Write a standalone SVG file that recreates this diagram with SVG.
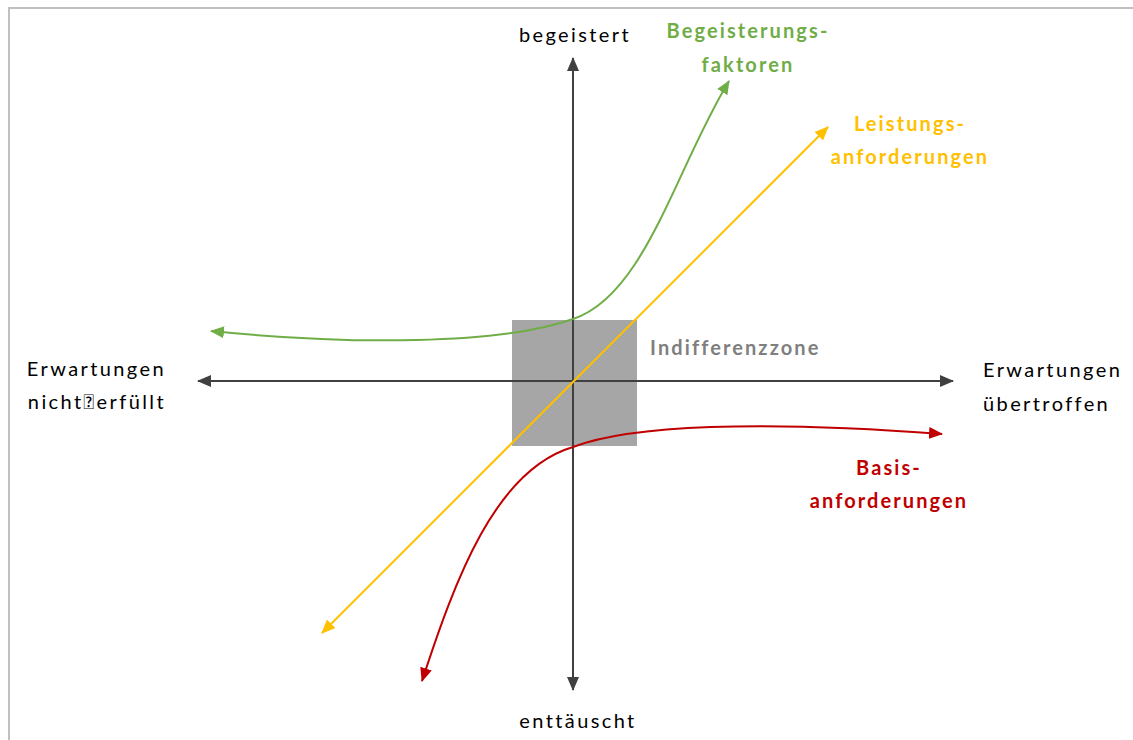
<svg xmlns="http://www.w3.org/2000/svg" width="1133" height="740" viewBox="0 0 1133 740">
  <style>
    .lbl { font-family: Lato, "Open Sans", sans-serif; font-size: 20px; letter-spacing: 2.4px; fill: #000; }
    .bold { font-family: Lato, "Open Sans", sans-serif; font-size: 20px; letter-spacing: 2.1px; font-weight: bold; }
    .axis { stroke: #404040; stroke-width: 2; fill: none; }
    .curve { stroke-width: 2; fill: none; }
  </style>
  <defs>
    <marker id="arrAxis" viewBox="0 0 14 12" refX="13" refY="6" markerWidth="14" markerHeight="12" markerUnits="userSpaceOnUse" orient="auto-start-reverse">
      <path d="M0,0 L14,6 L0,12 z" fill="#404040"/>
    </marker>
    <marker id="arrGreen" viewBox="0 0 14 12" refX="13" refY="6" markerWidth="14" markerHeight="12" markerUnits="userSpaceOnUse" orient="auto-start-reverse">
      <path d="M0,0 L14,6 L0,12 z" fill="#70ad47"/>
    </marker>
    <marker id="arrYellow" viewBox="0 0 14 12" refX="13" refY="6" markerWidth="14" markerHeight="12" markerUnits="userSpaceOnUse" orient="auto-start-reverse">
      <path d="M0,0 L14,6 L0,12 z" fill="#ffc000"/>
    </marker>
    <marker id="arrRed" viewBox="0 0 14 12" refX="13" refY="6" markerWidth="14" markerHeight="12" markerUnits="userSpaceOnUse" orient="auto-start-reverse">
      <path d="M0,0 L14,6 L0,12 z" fill="#c00000"/>
    </marker>
  </defs>

  <rect width="1133" height="740" fill="#fff"/>
  <!-- frame edges -->
  <path d="M9,740 V8 H1133" fill="none" stroke="#c0c0c0" stroke-width="2"/>

  <!-- indifference zone -->
  <g id="zone">
    <rect x="512" y="320" width="125" height="126" fill="#a6a6a6"/>
    <text class="bold" x="650" y="355" fill="#7f7f7f">Indifferenzzone</text>
  </g>

  <g id="connectors">
    <path class="axis" d="M198,381 H953" marker-start="url(#arrAxis)" marker-end="url(#arrAxis)"/>
    <path class="axis" d="M573,690 V58" marker-start="url(#arrAxis)" marker-end="url(#arrAxis)"/>
    <path class="curve" stroke="#70ad47" d="M211,331 C350,345 500,345 573,319 C645,295 675,170 729,81" marker-start="url(#arrGreen)" marker-end="url(#arrGreen)"/>
    <path class="curve" stroke="#ffc000" d="M322,633 L828,127" marker-start="url(#arrYellow)" marker-end="url(#arrYellow)"/>
    <path class="curve" stroke="#c00000" d="M422,681 C455,580 495,470 573,447 C630,425 760,420 942,434" marker-start="url(#arrRed)" marker-end="url(#arrRed)"/>
  </g>

  <g id="axis-labels">
    <text class="lbl" x="575" y="42" text-anchor="middle">begeistert</text>
    <text class="lbl" x="578" y="728" text-anchor="middle">enttäuscht</text>
    <text class="lbl" x="166" y="376" text-anchor="end">Erwartungen</text>
    <text class="lbl" x="166" y="409" text-anchor="end">nicht&#xF020;erfüllt</text>
    <text class="lbl" x="983" y="377">Erwartungen</text>
    <text class="lbl" x="983" y="411">übertroffen</text>
  </g>

  <g id="begeisterung">
    <text class="bold" fill="#70ad47" text-anchor="middle"><tspan x="748" y="38">Begeisterungs-</tspan><tspan x="748" y="72">faktoren</tspan></text>
  </g>
  <g id="leistung">
    <text class="bold" fill="#ffc000" text-anchor="middle"><tspan x="910" y="131">Leistungs-</tspan><tspan x="910" y="164">anforderungen</tspan></text>
  </g>
  <g id="basis">
    <text class="bold" fill="#c00000" text-anchor="middle"><tspan x="889" y="475">Basis-</tspan><tspan x="889" y="508">anforderungen</tspan></text>
  </g>
</svg>
